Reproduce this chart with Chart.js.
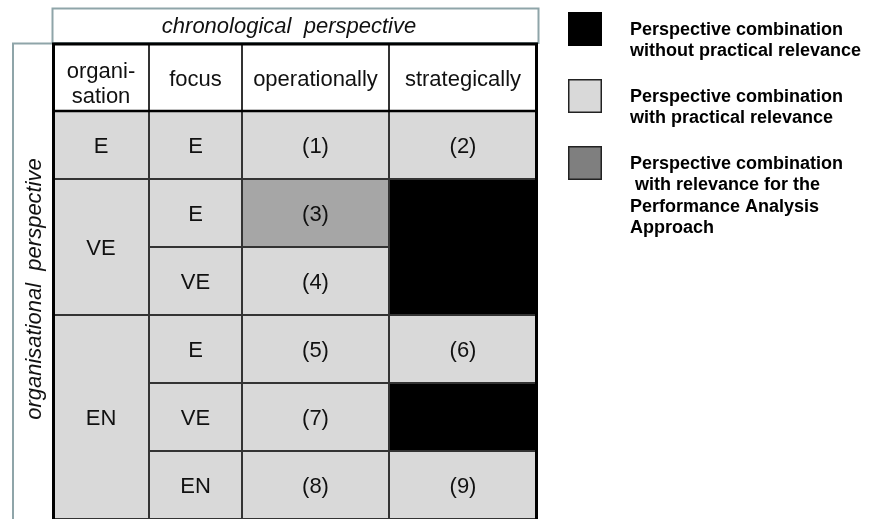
<!DOCTYPE html>
<html>
<head>
<meta charset="utf-8">
<script src="https://cdn.jsdelivr.net/npm/chart.js@4.4.1/dist/chart.umd.min.js"></script>
<style>
  html, body { margin: 0; padding: 0; background: #fff; }
  #wrap { width: 870px; height: 519px; }
</style>
</head>
<body>
<div id="wrap"><canvas id="matrix" width="870" height="519"></canvas></div>
<script>
/* Perspective matrix: each cell is a floating horizontal bar on a category row. */

// rows of the matrix, top to bottom ('head' is the header row)
const rows = ['head', 'r1', 'r2', 'r3', 'r4', 'r5', 'r6'];
const columnTitles = [['organi-', 'sation'], ['focus'], ['operationally'], ['strategically']];
const columnWidths = [96, 93, 147, 148];

// organisation column: [label, rows spanned]
const organisationGroups = [['E', 1], ['VE', 2], ['EN', 3]];
const focusLabels = ['E', 'E', 'VE', 'E', 'VE', 'EN'];
const operationalLabels = ['(1)', '(3)', '(4)', '(5)', '(7)', '(8)'];
const strategicLabels = ['(2)', null, null, '(6)', null, '(9)'];

// relevance per cell: 0 = none, 1 = practical, 2 = performance analysis approach
const operationalRelevance = [1, 2, 1, 1, 1, 1];
const strategicRelevance = [1, 0, 0, 1, 0, 1];

const legendLabels = [
  ['Perspective combination', 'without practical relevance'],
  ['Perspective combination', 'with practical relevance'],
  ['Perspective combination', ' with relevance for the', 'Performance Analysis', 'Approach']
];

const cellFill = ['#000000', '#d9d9d9', '#a6a6a6'];
const legendFill = ['#000000', '#d9d9d9', '#7f7f7f'];
const TEAL = '#8fa5a9';
const FONT = "'Liberation Sans', Arial, sans-serif";

// build the cell description for every column (body rows only)
const orgLabels = organisationGroups.flatMap(([l, n]) => Array(n).fill(l));
const orgGroup = organisationGroups.flatMap(([l, n], g) => Array(n).fill(g));

const columns = [
  orgLabels.map((l, i) => ({ text: l, fill: cellFill[1], group: 'o' + orgGroup[i] })),
  focusLabels.map((l, i) => ({ text: l, fill: cellFill[1], group: 'f' + i })),
  operationalLabels.map((l, i) => ({ text: l, fill: cellFill[operationalRelevance[i]], group: 'p' + i })),
  strategicLabels.map((l, i) => ({ text: l, fill: cellFill[strategicRelevance[i]], group: l === null ? 'sx' : 's' + i }))
];

const edges = [0];
columnWidths.forEach(w => edges.push(edges[edges.length - 1] + w));

function mergedAbove(col, i) { return i > 0 && col[i - 1].group === col[i].group; }
function mergedBelow(col, i) { return i < col.length - 1 && col[i + 1].group === col[i].group; }

const datasets = columns.map((col, c) => ({
  label: columnTitles[c].join(''),
  data: rows.map(r => ({ x: [edges[c], edges[c + 1]], y: r })),
  backgroundColor: ctx => ctx.dataIndex === 0 ? '#ffffff' : col[ctx.dataIndex - 1].fill,
  borderColor: '#333333',
  borderWidth: ctx => {
    const i = ctx.dataIndex - 1;
    if (i < 0) return { top: 0, bottom: 0, left: 1, right: 1 };
    return {
      top: mergedAbove(col, i) ? 0 : 1,
      bottom: mergedBelow(col, i) ? 0 : 1,
      left: 1,
      right: 1
    };
  },
  borderSkipped: false,
  inflateAmount: 0,
  grouped: false,
  categoryPercentage: 1,
  barPercentage: 1
}));

const matrixDecor = {
  id: 'matrixDecor',
  beforeDatasetsDraw(chart) {
    const { ctx, chartArea: a } = chart;
    ctx.save();
    ctx.strokeStyle = TEAL;
    ctx.lineWidth = 2;
    ctx.strokeRect(52.5, 8.5, a.right - 52.5 + 1.5, a.top - 8.5);
    ctx.beginPath();
    ctx.moveTo(a.left, 43.5);
    ctx.lineTo(13, 43.5);
    ctx.lineTo(13, chart.height);
    ctx.stroke();
    ctx.restore();
  },
  afterDatasetsDraw(chart) {
    const { ctx, chartArea: a } = chart;
    ctx.save();

    // thick outer frame
    ctx.strokeStyle = '#000';
    ctx.lineWidth = 3;
    ctx.beginPath();
    ctx.moveTo(a.left + 0.5, chart.height);
    ctx.lineTo(a.left + 0.5, a.top + 1);
    ctx.lineTo(a.right - 0.5, a.top + 1);
    ctx.lineTo(a.right - 0.5, chart.height);
    ctx.stroke();

    const headEl = chart.getDatasetMeta(0).data[0];
    const headBottom = headEl.y + headEl.height / 2;
    ctx.lineWidth = 2.5;
    ctx.beginPath();
    ctx.moveTo(a.left, headBottom);
    ctx.lineTo(a.right, headBottom);
    ctx.stroke();

    // cell texts
    ctx.fillStyle = '#111';
    ctx.textAlign = 'center';
    ctx.textBaseline = 'middle';
    ctx.font = `22px ${FONT}`;
    columns.forEach((col, c) => {
      const meta = chart.getDatasetMeta(c);
      const h = meta.data[0];
      const hx = (h.x + h.base) / 2;
      const lines = columnTitles[c];
      const shift = lines.length > 1 ? 7 : 3;
      lines.forEach((t, k) => {
        ctx.fillText(t, hx, h.y + shift + (k - (lines.length - 1) / 2) * 25);
      });
      col.forEach((cell, i) => {
        if (cell.text === null || mergedAbove(col, i)) return;
        let j = i;
        while (mergedBelow(col, j)) j++;
        const first = meta.data[i + 1];
        const last = meta.data[j + 1];
        ctx.fillText(cell.text, (first.x + first.base) / 2, (first.y + last.y) / 2 + 2);
      });
    });

    // perspective titles
    ctx.font = `italic 22px ${FONT}`;
    ctx.fillText('chronological  perspective', 289, 27);
    ctx.save();
    ctx.translate(35, 289);
    ctx.rotate(-Math.PI / 2);
    ctx.fillText('organisational  perspective', 0, 0);
    ctx.restore();

    // legend
    const boxX = 568, boxSize = 34, textX = 630;
    ctx.textAlign = 'left';
    ctx.font = `bold 18px ${FONT}`;
    legendLabels.forEach((lines, k) => {
      const top = 12 + k * 67;
      ctx.fillStyle = legendFill[k];
      ctx.fillRect(boxX, top, boxSize, boxSize);
      if (k > 0) {
        ctx.strokeStyle = '#222';
        ctx.lineWidth = 1.5;
        ctx.strokeRect(boxX + 0.75, top + 0.75, boxSize - 1.5, boxSize - 1.5);
      }
      ctx.fillStyle = '#000';
      lines.forEach((t, n) => ctx.fillText(t, textX, top + boxSize / 2 + 1 + n * 21.3));
    });
    ctx.restore();
  }
};

new Chart(document.getElementById('matrix'), {
  type: 'bar',
  data: { labels: rows, datasets },
  options: {
    indexAxis: 'y',
    responsive: false,
    animation: false,
    layout: { padding: { left: 53, right: 333, top: 43, bottom: 0 } },
    scales: {
      x: { type: 'linear', min: 0, max: edges[edges.length - 1], display: false },
      y: { type: 'category', offset: true, display: false }
    },
    plugins: {
      legend: { display: false },
      tooltip: { enabled: false }
    }
  },
  plugins: [matrixDecor]
});
</script>
</body>
</html>
